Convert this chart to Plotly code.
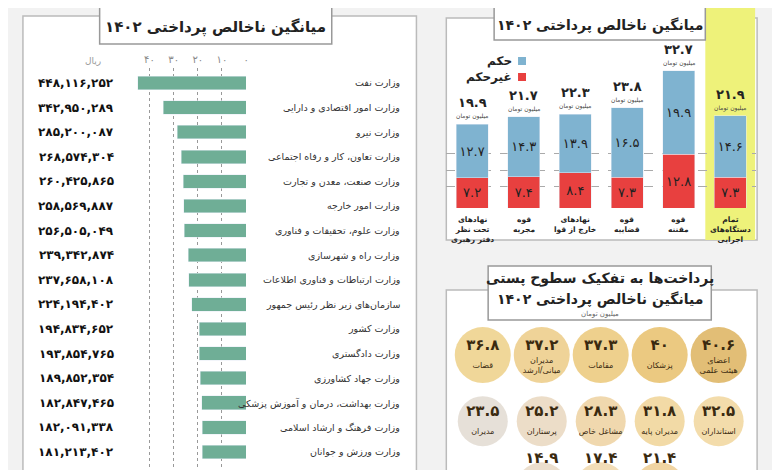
import plotly.graph_objects as go

FA = str.maketrans("0123456789", "۰۱۲۳۴۵۶۷۸۹")
def fa(s):
    return str(s).translate(FA)

# ---- left panel data ----
ministries = ["وزارت نفت", "وزارت امور اقتصادی و دارایی", "وزارت نیرو",
              "وزارت تعاون، کار و رفاه اجتماعی", "وزارت صنعت، معدن و تجارت",
              "وزارت امور خارجه", "وزارت علوم، تحقیقات و فناوری", "وزارت راه و شهرسازی",
              "وزارت ارتباطات و فناوری اطلاعات", "سازمان‌های زیر نظر رئیس جمهور",
              "وزارت کشور", "وزارت دادگستری", "وزارت جهاد کشاورزی",
              "وزارت بهداشت، درمان و آموزش پزشکی", "وزارت فرهنگ و ارشاد اسلامی",
              "وزارت ورزش و جوانان"]
rial = [448116252, 342950289, 285200087, 268574304, 260425865, 258569887,
        256505049, 239342874, 237658108, 224194402, 194834652, 193854765,
        189852354, 182847465, 182091338, 181213402]
left_ticks = [0, 10, 20, 30, 40]

# ---- top right data ----
groups = ["نهادهای<br>تحت نظر<br>دفتر رهبری", "قوه<br>مجریه", "نهادهای<br>خارج از قوا",
          "قوه<br>قضاییه", "قوه<br>مقننه", "تمام<br>دستگاه‌های<br>اجرایی"]
hokm = [12.7, 14.3, 13.9, 16.5, 19.9, 14.6]
gheir = [7.2, 7.4, 8.4, 7.3, 12.8, 7.3]
totals = [19.9, 21.7, 22.3, 23.8, 32.7, 21.9]

# ---- bottom right data ----
posts = ["اعضای<br>هیئت علمی", "پزشکان", "مقامات", "مدیران<br>میانی/ارشد", "قضات",
         "استانداران", "مدیران پایه", "مشاغل خاص", "پرستاران", "مدیران",
         "", "", ""]
post_vals = [40.6, 40, 37.3, 37.2, 36.8, 32.5, 31.8, 28.3, 25.2, 23.5, 21.4, 17.4, 14.9]
post_col = [0, 1, 2, 3, 4, 0, 1, 2, 3, 4, 1, 2, 3]
post_row = [0, 0, 0, 0, 0, 1, 1, 1, 1, 1, 2, 2, 2]
post_colors = ["#d6a23c", "#e3b24c", "#e7bc5c", "#e8c06c", "#eac66e",
               "#eecd88", "#edca80", "#eac88c", "#e4cfb0", "#dcd3c8",
               "#e9c27a", "#eccf98", "#e2d0b8"]

W, H = 780, 470
px = lambda x: x / W
py = lambda y: 1 - y / H
FONT = "DejaVu Sans"
BLUE, RED, TEAL = "#7fb3d0", "#e8403f", "#6fae96"

fig = go.Figure()

fig.add_trace(go.Bar(x=[v / 1e7 for v in rial], y=list(range(len(rial))), orientation="h",
                     marker_color=TEAL, width=0.55, xaxis="x", yaxis="y", showlegend=False))
fig.add_trace(go.Bar(x=list(range(6)), y=gheir, marker_color=RED, width=0.62,
                     text=[fa(v) for v in gheir], textposition="inside", insidetextanchor="middle",
                     textangle=0, textfont=dict(family=FONT, size=13, color="#222"),
                     xaxis="x2", yaxis="y2", showlegend=False))
fig.add_trace(go.Bar(x=list(range(6)), y=hokm, marker_color=BLUE, width=0.62,
                     text=[fa(v) for v in hokm], textposition="inside", insidetextanchor="middle",
                     textangle=0, textfont=dict(family=FONT, size=13, color="#222"),
                     xaxis="x2", yaxis="y2", showlegend=False))
fig.add_trace(go.Scatter(x=post_col, y=post_row, mode="markers",
                         marker=dict(size=[56 if r == 0 else 50 for r in post_row],
                                     color=post_colors, line=dict(width=0)),
                         xaxis="x3", yaxis="y3", showlegend=False, hoverinfo="skip"))
fig.add_trace(go.Scatter(x=post_col, y=[r - 0.13 if r < 2 else r - 0.42 for r in post_row], mode="text",
                         text=["<b>" + fa(v) + "</b>" for v in post_vals],
                         textfont=dict(family=FONT, size=15, color="#3a2a10"),
                         xaxis="x3", yaxis="y3", showlegend=False, hoverinfo="skip"))
fig.add_trace(go.Scatter(x=post_col, y=[r + 0.17 for r in post_row], mode="text",
                         text=posts, textfont=dict(family=FONT, size=8, color="#3a2a10"),
                         xaxis="x3", yaxis="y3", showlegend=False, hoverinfo="skip"))

shapes = [
    dict(type="rect", xref="paper", yref="paper", x0=px(15), x1=px(410), y0=py(480), y1=py(8),
         line=dict(color="#bbb", width=1.5), fillcolor="white", layer="below"),
    dict(type="rect", xref="paper", yref="paper", x0=px(440), x1=px(752), y0=py(232), y1=py(10),
         line=dict(color="#bbb", width=1.5), fillcolor="white", layer="below"),
    dict(type="rect", xref="paper", yref="paper", x0=px(700), x1=px(750), y0=py(232), y1=py(0),
         line=dict(width=0), fillcolor="#eef27a", layer="below"),
    dict(type="rect", xref="paper", yref="paper", x0=px(440), x1=px(752), y0=py(480), y1=py(282),
         line=dict(color="#bbb", width=1.5), fillcolor="white", layer="below"),
    dict(type="rect", xref="paper", yref="paper", x0=px(92), x1=px(325), y0=py(36), y1=py(-5),
         line=dict(color="#999", width=1.5), fillcolor="white", layer="below"),
    dict(type="rect", xref="paper", yref="paper", x0=px(488), x1=px(700), y0=py(32), y1=py(-5),
         line=dict(color="#999", width=1.5), fillcolor="white", layer="below"),
    dict(type="rect", xref="paper", yref="paper", x0=px(482), x1=px(706), y0=py(312), y1=py(258),
         line=dict(color="#999", width=1.5), fillcolor="white", layer="below"),
    dict(type="rect", xref="paper", yref="paper", x0=px(512), x1=px(520), y0=py(57), y1=py(49),
         line=dict(width=0), fillcolor=BLUE),
    dict(type="rect", xref="paper", yref="paper", x0=px(512), x1=px(520), y0=py(73), y1=py(65),
         line=dict(width=0), fillcolor=RED),
]

ann = []
def A(x, y, t, size=12, anchor="center", color="#222", **kw):
    ann.append(dict(xref="paper", yref="paper", x=px(x), y=py(y), text=t, showarrow=False,
                    xanchor=anchor, yanchor="middle", font=dict(family=FONT, size=size, color=color), **kw))

A(208, 19, "<b>میانگین ناخالص پرداختی " + fa(1402) + "</b>", 15)
A(594, 17, "<b>میانگین ناخالص پرداختی " + fa(1402) + "</b>", 14)
A(594, 270, "<b>پرداخت‌ها به تفکیک سطوح پستی</b>", 14)
A(594, 291, "<b>میانگین ناخالص پرداختی " + fa(1402) + "</b>", 14)
A(594, 306, "میلیون تومان", 7, color="#666")
A(85, 53, "ریال", 9, color="#999")
A(508, 53, "<b>حکم</b>", 12, anchor="right")
A(508, 69, "<b>غیرحکم</b>", 12, anchor="right")

for i, (name, v) in enumerate(zip(ministries, rial)):
    ann.append(dict(xref="paper", yref="y", x=px(396), y=i, text=name, showarrow=False,
                    xanchor="right", font=dict(family=FONT, size=9.5, color="#333")))
    ann.append(dict(xref="paper", yref="y", x=px(108), y=i, text="<b>" + fa(f"{v:,}") + "</b>",
                    showarrow=False, xanchor="right", font=dict(family=FONT, size=12, color="#111")))

for i, t in enumerate(totals):
    ann.append(dict(xref="x2", yref="y2", x=i, y=t, text="<b>" + fa(t) + "</b>", showarrow=False,
                    yanchor="bottom", yshift=12, font=dict(family=FONT, size=13, color="#222")))
    ann.append(dict(xref="x2", yref="y2", x=i, y=t, text="میلیون تومان", showarrow=False,
                    yanchor="bottom", yshift=2, font=dict(family=FONT, size=6, color="#444")))
    ann.append(dict(xref="x2", yref="paper", x=i, y=py(205), text="<b>" + groups[i] + "</b>",
                    showarrow=False, yanchor="top", font=dict(family=FONT, size=7.5, color="#222")))

fig.update_layout(
    width=W, height=H, margin=dict(l=0, r=0, t=0, b=0),
    paper_bgcolor="#f2f2f2", plot_bgcolor="rgba(0,0,0,0)", barmode="stack",
    shapes=shapes, annotations=ann, uniformtext=dict(minsize=11, mode="show"),
    xaxis=dict(domain=[px(127.5), px(239)], range=[46, 0], side="top",
               tickvals=left_ticks, ticktext=[fa(t) for t in left_ticks],
               tickfont=dict(family=FONT, size=10, color="#888"),
               showgrid=True, gridcolor="#999", griddash="dot", zeroline=False,
               anchor="y", ticklabelstandoff=2),
    yaxis=dict(domain=[0, py(60)], range=[16.06, -0.61], visible=False),
    xaxis2=dict(domain=[px(440), px(751)], range=[-0.5, 5.5], visible=False, anchor="y2"),
    yaxis2=dict(domain=[py(200), py(60)], range=[0, 33.3], anchor="x2",
                tickvals=[5, 9, 13], showticklabels=False, showgrid=True,
                gridcolor="#aaa", griddash="dash", zeroline=False),
    xaxis3=dict(domain=[px(447), px(743)], range=[4.5, -0.5], visible=False, anchor="y3"),
    yaxis3=dict(domain=[0, py(314)], range=[1.86, -0.5], visible=False, anchor="x3"),
)

fig.write_html("out.html")
